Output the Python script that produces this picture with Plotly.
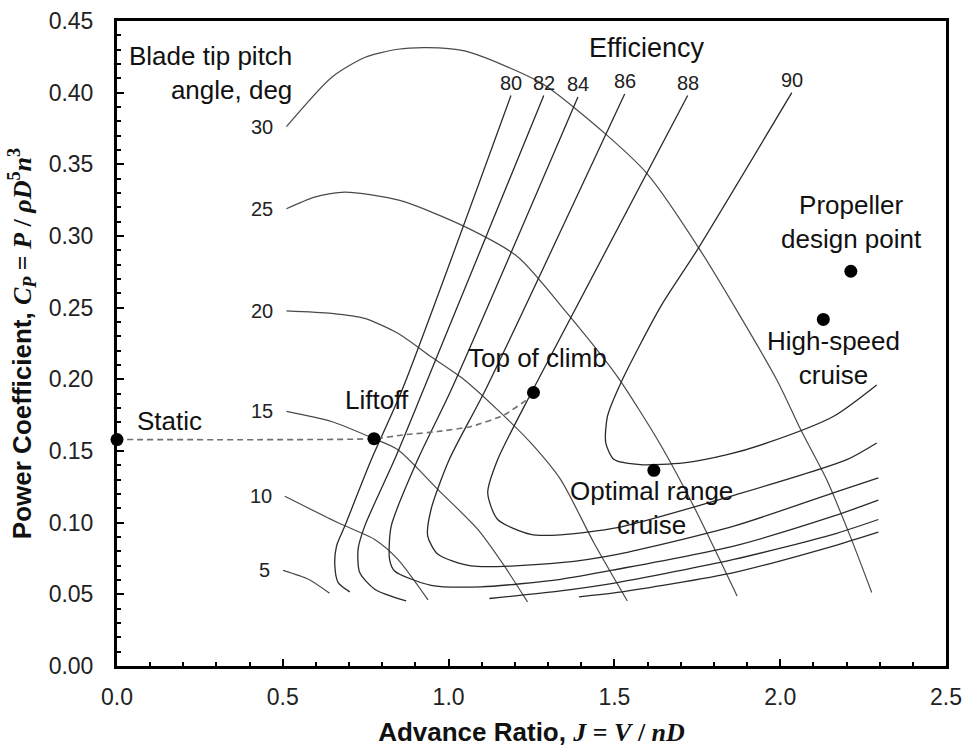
import plotly.graph_objects as go

# ---- Blade tip pitch angle curves (advance ratio J, power coefficient Cp) ----
PITCH_30_J = [0.511, 0.647, 0.747, 0.847, 0.937, 1.048, 1.158, 1.288, 1.479, 1.599, 1.759, 1.990, 2.062, 2.140, 2.211, 2.276]
PITCH_30_CP = [0.3763, 0.4106, 0.4245, 0.4303, 0.4314, 0.4291, 0.4199, 0.4055, 0.370, 0.3434, 0.290, 0.1996, 0.1648, 0.1301, 0.0906, 0.0513]

PITCH_25_J = [0.511, 0.596, 0.687, 0.853, 1.047, 1.209, 1.358, 1.509, 1.639, 1.739, 1.870]
PITCH_25_CP = [0.319, 0.3271, 0.3306, 0.3248, 0.3067, 0.2854, 0.246, 0.2019, 0.1544, 0.1115, 0.0489]

PITCH_20_J = [0.511, 0.647, 0.747, 0.847, 0.947, 1.048, 1.148, 1.248, 1.338, 1.438, 1.539]
PITCH_20_CP = [0.2478, 0.246, 0.2425, 0.2321, 0.2158, 0.1996, 0.1787, 0.1556, 0.130, 0.086, 0.0454]

PITCH_15_J = [0.511, 0.647, 0.775, 0.847, 0.968, 1.088, 1.168, 1.238]
PITCH_15_CP = [0.1777, 0.1706, 0.1586, 0.1509, 0.1231, 0.0953, 0.0698, 0.0447]

PITCH_10_J = [0.506, 0.667, 0.777, 0.847, 0.938]
PITCH_10_CP = [0.1184, 0.0999, 0.0883, 0.0744, 0.0461]

PITCH_5_J = [0.501, 0.577, 0.641]
PITCH_5_CP = [0.0667, 0.0605, 0.0508]

PITCH_LABELS = ["30", "25", "20", "15", "10", "5"]

# ---- Efficiency contours ----
EFF_80_J = [1.188, 0.860, 0.767, 0.687, 0.662, 0.657, 0.667, 0.702]
EFF_80_CP = [0.398, 0.1927, 0.144, 0.0976, 0.0837, 0.0698, 0.0582, 0.0517]
EFF_80_LOW_J = [1.393, 1.509, 1.860, 2.160, 2.296]
EFF_80_LOW_CP = [0.0482, 0.0513, 0.0652, 0.0837, 0.0934]

EFF_82_J = [1.287, 0.924, 0.837, 0.747, 0.727, 0.732, 0.777, 0.872]
EFF_82_CP = [0.398, 0.1927, 0.144, 0.0976, 0.0814, 0.0652, 0.0536, 0.0454]
EFF_82_LOW_J = [1.123, 1.338, 1.509, 1.860, 2.160, 2.296]
EFF_82_LOW_CP = [0.0471, 0.0524, 0.0582, 0.0744, 0.0918, 0.1022]

EFF_84_J = [1.390, 1.008, 0.907, 0.827, 0.822, 0.837, 0.947, 1.098, 1.338, 1.509, 1.860, 2.160, 2.296]
EFF_84_CP = [0.397, 0.1927, 0.144, 0.0976, 0.0744, 0.0663, 0.0563, 0.0552, 0.0605, 0.0675, 0.0837, 0.1045, 0.1157]

EFF_86_J = [1.531, 1.114, 1.002, 0.947, 0.937, 0.968, 1.068, 1.338, 1.509, 1.860, 2.160, 2.296]
EFF_86_CP = [0.399, 0.194, 0.144, 0.1092, 0.0906, 0.0779, 0.0698, 0.0721, 0.0779, 0.0976, 0.1208, 0.1312]

EFF_88_J = [1.721, 1.257, 1.148, 1.118, 1.148, 1.248, 1.338, 1.509, 1.850, 2.201, 2.291]
EFF_88_CP = [0.398, 0.194, 0.144, 0.1208, 0.1022, 0.0918, 0.0915, 0.0965, 0.1184, 0.144, 0.1556]

EFF_90_J = [2.035, 1.749, 1.639, 1.519, 1.479, 1.474, 1.499, 1.579, 1.709, 1.840, 1.960, 2.160, 2.291]
EFF_90_CP = [0.400, 0.290, 0.2506, 0.1973, 0.1741, 0.1556, 0.144, 0.1405, 0.1417, 0.1474, 0.1556, 0.1741, 0.1961]

EFF_LABELS = ["80", "82", "84", "86", "88", "90"]

# ---- Flight path (static -> liftoff -> top of climb) ----
PATH_J = [0.0, 0.775, 0.867, 0.967, 1.068, 1.168, 1.248, 1.256]
PATH_CP = [0.158, 0.1586, 0.1613, 0.1636, 0.1671, 0.1752, 0.1881, 0.1908]

# ---- Operating points ----
POINT_NAMES = ["Static", "Liftoff", "Top of climb", "Optimal range cruise", "High-speed cruise", "Propeller design point"]
POINT_J = [0.0, 0.775, 1.256, 1.619, 2.130, 2.213]
POINT_CP = [0.158, 0.1586, 0.1908, 0.1365, 0.2418, 0.2754]

SANS = "Liberation Sans, Arial, sans-serif"
SERIF = "Liberation Serif"
PITCH_COLOR = "#4a4a4a"
EFF_COLOR = "#2a2a2a"

fig = go.Figure()

def add_curve(xs, ys, color, width=1.2):
    fig.add_trace(go.Scatter(
        x=xs, y=ys, mode="lines",
        line=dict(color=color, width=width, shape="spline", smoothing=0.7),
        hoverinfo="skip", showlegend=False,
    ))

pitch_curves = [
    (PITCH_30_J, PITCH_30_CP), (PITCH_25_J, PITCH_25_CP), (PITCH_20_J, PITCH_20_CP),
    (PITCH_15_J, PITCH_15_CP), (PITCH_10_J, PITCH_10_CP), (PITCH_5_J, PITCH_5_CP),
]
for xs, ys in pitch_curves:
    add_curve(xs, ys, PITCH_COLOR, 1.2)

eff_curves = [
    (EFF_80_J, EFF_80_CP), (EFF_82_J, EFF_82_CP), (EFF_84_J, EFF_84_CP),
    (EFF_86_J, EFF_86_CP), (EFF_88_J, EFF_88_CP), (EFF_90_J, EFF_90_CP),
]
for xs, ys in eff_curves:
    add_curve(xs, ys, EFF_COLOR, 1.3)
add_curve(EFF_80_LOW_J, EFF_80_LOW_CP, EFF_COLOR, 1.3)
add_curve(EFF_82_LOW_J, EFF_82_LOW_CP, EFF_COLOR, 1.3)

# dashed climb path
fig.add_trace(go.Scatter(
    x=PATH_J, y=PATH_CP, mode="lines",
    line=dict(color="#707070", width=1.6, dash="6px,4px", shape="spline", smoothing=0.5),
    hoverinfo="skip", showlegend=False,
))

# operating points
fig.add_trace(go.Scatter(
    x=POINT_J, y=POINT_CP, mode="markers",
    marker=dict(color="black", size=13),
    cliponaxis=False, hovertext=POINT_NAMES, showlegend=False,
))

annotations = []
# pitch angle labels at the start of each curve
for lab, (xs, ys) in zip(PITCH_LABELS, pitch_curves):
    annotations.append(dict(x=xs[0], y=ys[0], text=lab, xanchor="right", yanchor="middle",
                            xshift=-11, font=dict(size=20, color="#222", family=SANS)))
# efficiency labels above each contour
for lab, (xs, ys) in zip(EFF_LABELS, eff_curves):
    annotations.append(dict(x=xs[0], y=ys[0], text=lab, xanchor="center", yanchor="middle",
                            yshift=13, font=dict(size=20, color="#222", family=SANS)))

label_font = dict(size=26, color="#111", family=SANS)
annotations += [
    dict(x=0.535, y=0.414, text="Blade tip pitch<br>angle, deg", xanchor="right", align="right", font=label_font),
    dict(x=1.599, y=0.4314, text="Efficiency", font=dict(size=27, color="#111", family=SANS)),
    dict(x=0.054, y=0.171, text="Static", xanchor="left", font=label_font),
    dict(x=0.783, y=0.1857, text="Liftoff", font=label_font),
    dict(x=1.267, y=0.2147, text="Top of climb", font=label_font),
    dict(x=1.611, y=0.110, text="Optimal range<br>cruise", font=label_font),
    dict(x=2.160, y=0.2146, text="High-speed<br>cruise", font=label_font),
    dict(x=2.215, y=0.3097, text="Propeller<br>design point", font=label_font),
]
for a in annotations:
    a.setdefault("xref", "x")
    a.setdefault("yref", "y")
    a["showarrow"] = False

axis_common = dict(
    showgrid=False, zeroline=False, showline=True, linewidth=3, linecolor="black", mirror=True,
    ticks="inside", ticklen=7, tickwidth=2, tickcolor="black", automargin=False,
    tickfont=dict(size=23, color="#222", family=SANS),
)

x_title = ("<b>Advance Ratio, </b><span style=\"font-family:%s\"><b><i>J</i> = <i>V</i> / <i>nD</i></b></span>" % SERIF)
y_title = ("<b>Power Coefficient, </b><span style=\"font-family:%s\"><b><i>C<sub>P</sub></i> = <i>P</i> / "
           "<i>ρD</i><sup>5</sup><i>n</i><sup>3</sup></b></span>" % SERIF)

fig.update_layout(
    width=968, height=747,
    margin=dict(l=117, r=22, t=21, b=81),
    paper_bgcolor="white", plot_bgcolor="white",
    showlegend=False,
    annotations=annotations,
    xaxis=dict(range=[0, 2.5], tick0=0, dtick=0.5, tickformat=".1f", ticklabelstandoff=8,
               minor=dict(dtick=0.1, ticks="inside", ticklen=4, tickwidth=2, tickcolor="black", showgrid=False),
               title=dict(text=x_title, font=dict(size=26, color="#111", family=SANS), standoff=20),
               **axis_common),
    yaxis=dict(range=[0, 0.45], tick0=0, dtick=0.05, tickformat=".2f", ticklabelstandoff=16,
               minor=dict(dtick=0.01, ticks="inside", ticklen=4, tickwidth=2, tickcolor="black", showgrid=False),
               title=dict(text=y_title, font=dict(size=26, color="#111", family=SANS), standoff=10),
               **axis_common),
)

fig.write_html("out.html")
